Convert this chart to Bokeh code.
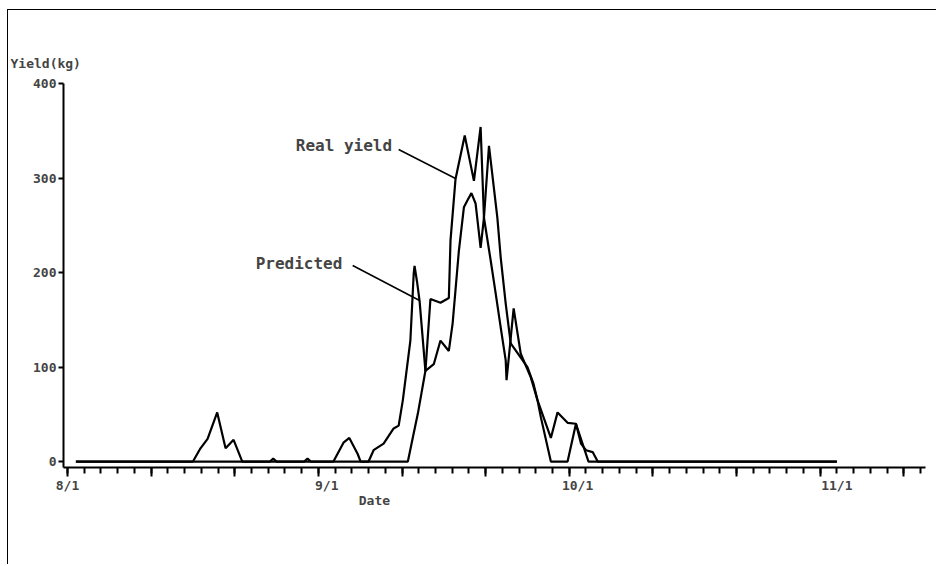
from bokeh.plotting import figure
from bokeh.models import Range1d, FixedTicker, LinearAxis, Label
from bokeh.embed import file_html
from bokeh.resources import INLINE

# x values are days counted from 8/1 (day 0)
pred_day = [1, 15, 15.9, 16.75, 17.9, 18.9, 19.86, 20.9, 24.2, 24.6, 25.0, 28.3, 28.7, 29.1,
            31.8, 33.0, 33.7, 34.7, 35.05, 36.0, 36.6, 37.8, 39.0, 39.6, 40.1, 41.0, 41.4,
            41.5, 41.8, 42.1, 42.8, 43.8, 44.6, 45.6, 46.05, 46.8, 47.4, 47.8, 48.3, 48.8,
            49.4, 49.8, 50.4, 51.4, 51.8, 52.4, 53.0, 54.2, 55.0, 55.7, 56.2, 56.6, 57.8,
            59.8, 60.8, 62.3, 92]
pred_val = [0, 0, 14, 24, 52, 14, 23, 0, 0, 3, 0, 0, 3, 0,
            0, 20, 25, 8, 0, 0, 12, 19, 35, 38, 65, 128, 199,
            207, 190, 170, 96, 103, 128, 117, 146, 223, 269, 276, 284, 273,
            226, 258, 334, 258, 216, 167, 125, 110, 100, 83, 65, 47, 0,
            0, 40, 0, 0]

real_day = [1, 40.7, 41.4, 41.9, 42.8, 43.4, 44.6, 45.6, 45.8, 46.4, 47.5, 48.6, 49.4, 49.8,
            50.6, 51.2, 51.8, 52.4, 52.5, 53.35, 54.2, 55.4, 56.2, 57.8, 58.6, 59.8, 60.8,
            61.4, 62.0, 62.8, 63.4, 92]
real_val = [0, 0, 30, 51, 96, 172, 168, 173, 234, 299, 345, 297, 354, 258,
            213, 178, 142, 107, 86, 162, 114, 89, 65, 25, 52, 41, 40,
            19, 12, 10, 0, 0]

y_ticks = [0, 100, 200, 300, 400]
x_major_ticks = list(range(0, 101, 10))
x_minor_ticks = list(range(0, 103, 2))
date_ticks = [0, 31, 61, 92]
date_labels = ["8/1", "9/1", "10/1", "11/1"]

FONT = "DejaVu Sans Mono"

p = figure(width=929, height=555, output_backend="svg", toolbar_location=None,
           x_range=Range1d(-0.48, 102.6), y_range=Range1d(-6.3, 400),
           x_axis_type=None, y_axis_type=None,
           min_border_left=55, min_border_right=12, min_border_top=73, min_border_bottom=98,
           title="Yield(kg)")
p.grid.visible = False
p.outline_line_color = None
p.background_fill_color = "white"
p.border_fill_color = "white"
p.styles = {"margin-left": "7px", "margin-top": "9px",
            "border-top": "1px solid black", "border-left": "1px solid black"}

p.title.align = "left"
p.title.offset = -53
p.title.text_font = FONT
p.title.text_font_size = "13px"
p.title.text_font_style = "bold"
p.title.standoff = 25

yax = LinearAxis(ticker=FixedTicker(ticks=y_ticks, minor_ticks=[]),
                 axis_line_width=2, major_tick_line_width=2,
                 major_tick_out=5, major_tick_in=0, minor_tick_out=0, minor_tick_in=0,
                 major_label_text_font=FONT, major_label_text_font_size="13px",
                 major_label_text_font_style="bold", major_label_standoff=2)
p.add_layout(yax, "left")

xax = LinearAxis(ticker=FixedTicker(ticks=x_major_ticks, minor_ticks=x_minor_ticks),
                 axis_line_width=2, major_tick_line_width=2, minor_tick_line_width=2,
                 major_tick_out=9, major_tick_in=0, minor_tick_out=6, minor_tick_in=0,
                 major_label_text_color=None, major_label_standoff=0)
p.add_layout(xax, "below")

dax = LinearAxis(ticker=FixedTicker(ticks=date_ticks, minor_ticks=[]),
                 major_label_overrides={t: l for t, l in zip(date_ticks, date_labels)},
                 axis_line_color=None, major_tick_line_color=None, minor_tick_line_color=None,
                 major_tick_out=0, major_tick_in=0, major_label_standoff=1,
                 major_label_text_font=FONT, major_label_text_font_size="13px",
                 major_label_text_font_style="bold")
p.add_layout(dax, "below")

tax = LinearAxis(ticker=FixedTicker(ticks=[36.7], minor_ticks=[]),
                 major_label_overrides={36.7: "Date"},
                 axis_line_color=None, major_tick_line_color=None, minor_tick_line_color=None,
                 major_tick_out=0, major_tick_in=0, major_label_standoff=-3,
                 major_label_text_font=FONT, major_label_text_font_size="13px",
                 major_label_text_font_style="bold")
p.add_layout(tax, "below")

p.line(pred_day, pred_val, line_color="black", line_width=2.2)
p.line(real_day, real_val, line_color="black", line_width=2.2)

# annotation leaders
p.line([39.6, 46.4], [330.2, 299.5], line_color="black", line_width=1.5)
p.line([34.1, 42.1], [207.4, 170.4], line_color="black", line_width=1.5)
p.add_layout(Label(x=27.3, y=334.4, text="Real yield", text_font=FONT, text_font_size="16px",
                   text_font_style="bold", text_baseline="middle", text_align="left"))
p.add_layout(Label(x=22.5, y=209.5, text="Predicted", text_font=FONT, text_font_size="16px",
                   text_font_style="bold", text_baseline="middle", text_align="left"))

open("out.html", "w").write(file_html(p, INLINE))
